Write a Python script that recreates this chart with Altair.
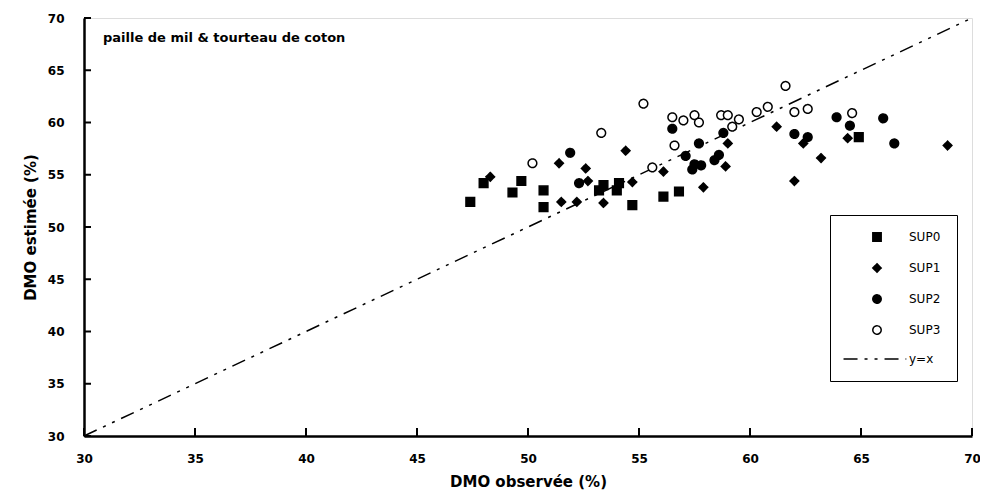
import altair as alt
import pandas as pd

# ---- data ----
sup0_x = [47.4, 48.0, 49.3, 49.7, 50.7, 50.7, 53.2, 53.4, 54.0, 54.1, 54.7, 56.1, 56.8, 64.9]
sup0_y = [52.4, 54.2, 53.3, 54.4, 53.5, 51.9, 53.5, 54.0, 53.5, 54.2, 52.1, 52.9, 53.4, 58.6]

sup1_x = [48.3, 51.4, 51.5, 52.2, 52.6, 52.7, 53.4, 54.4, 54.7, 56.1, 57.9, 59.0, 58.9, 61.2, 63.2, 62.0, 64.4, 68.9, 62.4]
sup1_y = [54.8, 56.1, 52.4, 52.4, 55.6, 54.4, 52.3, 57.3, 54.3, 55.3, 53.8, 58.0, 55.8, 59.6, 56.6, 54.4, 58.5, 57.8, 58.0]

sup2_x = [51.9, 52.3, 56.5, 57.1, 57.5, 57.4, 57.7, 58.8, 58.6, 58.4, 57.8, 62.0, 62.6, 63.9, 64.5, 66.0, 66.5]
sup2_y = [57.1, 54.2, 59.4, 56.8, 56.0, 55.5, 58.0, 59.0, 56.9, 56.4, 55.9, 58.9, 58.6, 60.5, 59.7, 60.4, 58.0]

sup3_x = [50.2, 53.3, 55.2, 55.6, 56.5, 56.6, 57.0, 57.5, 57.7, 58.7, 59.0, 59.5, 59.2, 60.3, 60.8, 61.6, 62.0, 62.6, 64.6]
sup3_y = [56.1, 59.0, 61.8, 55.7, 60.5, 57.8, 60.2, 60.7, 60.0, 60.7, 60.7, 60.3, 59.6, 61.0, 61.5, 63.5, 61.0, 61.3, 60.9]

line_x = [30, 70]
line_y = [30, 70]

series_names = ["SUP0", "SUP1", "SUP2", "SUP3", "y=x"]
tick_values = [30, 35, 40, 45, 50, 55, 60, 65, 70]
annotation = "paille de mil & tourteau de coton"
x_title = "DMO observée (%)"
y_title = "DMO estimée (%)"

rows = []
for name, xs, ys in [("SUP0", sup0_x, sup0_y), ("SUP1", sup1_x, sup1_y),
                     ("SUP2", sup2_x, sup2_y), ("SUP3", sup3_x, sup3_y)]:
    for a, b in zip(xs, ys):
        rows.append({"obs": a, "est": b, "serie": name})
pts = pd.DataFrame(rows)
line_df = pd.DataFrame({"obs": line_x, "est": line_y, "serie": ["y=x"] * len(line_x)})
ticks_df = pd.DataFrame({"obs": tick_values, "est": tick_values})

W, H = 888, 418
FONT = "DejaVu Sans"

xscale = alt.Scale(domain=[30, 70], nice=False, zero=False)
yscale = alt.Scale(domain=[30, 70], nice=False, zero=False)

shape_scale = alt.Scale(domain=series_names,
                        range=["square", "diamond", "circle", "circle", "M-8,0L7,0"])
fill_scale = alt.Scale(domain=series_names,
                       range=["black", "black", "black", "white", "transparent"])
stroke_scale = alt.Scale(domain=series_names,
                         range=["black", "black", "black", "black", "black"])
dash_scale = alt.Scale(domain=series_names,
                       range=[[1, 0], [1, 0], [1, 0], [1, 0], [14, 7, 3, 7, 3, 7]])

legend = alt.Legend(title=None, orient="none", legendX=746, legendY=197,
                    strokeColor="black", padding=16,
                    rowPadding=15, symbolOffset=25, labelOffset=26,
                    symbolSize=70, symbolStrokeWidth=1.5,
                    labelFont=FONT, labelFontSize=12, labelColor="black",
                    fillColor="white")

x_axis = alt.Axis(title=x_title, values=tick_values, grid=False, ticks=False,
                  domainColor="black", domainWidth=2.5, labelPadding=17,
                  labelFlush=False,
                  labelFont=FONT, labelFontSize=12, labelFontWeight="bold",
                  labelColor="black", titleFont=FONT, titleFontSize=15,
                  titleFontWeight="bold", titleColor="black", titlePadding=10)
y_axis = alt.Axis(title=y_title, values=tick_values, grid=False, ticks=False,
                  domainColor="black", domainWidth=2.5, labelPadding=20,
                  labelFlush=False,
                  labelFont=FONT, labelFontSize=12, labelFontWeight="bold",
                  labelColor="black", titleFont=FONT, titleFontSize=15,
                  titleFontWeight="bold", titleColor="black", titlePadding=9)

points = alt.Chart(pts).mark_point(size=75, strokeWidth=1.5, opacity=1).encode(
    x=alt.X("obs:Q", scale=xscale, axis=x_axis),
    y=alt.Y("est:Q", scale=yscale, axis=y_axis),
    shape=alt.Shape("serie:N", scale=shape_scale, legend=legend),
    fill=alt.Fill("serie:N", scale=fill_scale, legend=legend),
    stroke=alt.Stroke("serie:N", scale=stroke_scale, legend=legend),
    strokeDash=alt.StrokeDash("serie:N", scale=dash_scale, legend=legend),
)

line = alt.Chart(line_df).mark_line(strokeWidth=1.5).encode(
    x=alt.X("obs:Q", scale=xscale, axis=x_axis),
    y=alt.Y("est:Q", scale=yscale, axis=y_axis),
    stroke=alt.Stroke("serie:N", scale=stroke_scale, legend=legend),
    strokeDash=alt.StrokeDash("serie:N", scale=dash_scale, legend=legend),
)

yticks = alt.Chart(ticks_df).mark_rule(color="black", strokeWidth=2).encode(
    y=alt.Y("est:Q", scale=yscale, axis=y_axis),
    x=alt.value(0), x2=alt.value(7),
)
xticks = alt.Chart(ticks_df).mark_rule(color="black", strokeWidth=2).encode(
    x=alt.X("obs:Q", scale=xscale, axis=x_axis),
    y=alt.value(H), y2=alt.value(H - 8),
)

note = alt.Chart(pd.DataFrame({"t": [annotation]})).mark_text(
    align="left", baseline="middle", font=FONT, fontSize=13, fontWeight="bold",
    color="black"
).encode(text="t:N", x=alt.value(19), y=alt.value(20))

chart = alt.layer(line, points, yticks, xticks, note).properties(
    width=W, height=H,
    autosize=alt.AutoSizeParams(type="none"),
    padding={"left": 76, "top": 10, "right": 8, "bottom": 62},
).configure_view(stroke=None).configure(background="white")

chart.save("out.html", embed_options={"renderer": "svg", "actions": False})
